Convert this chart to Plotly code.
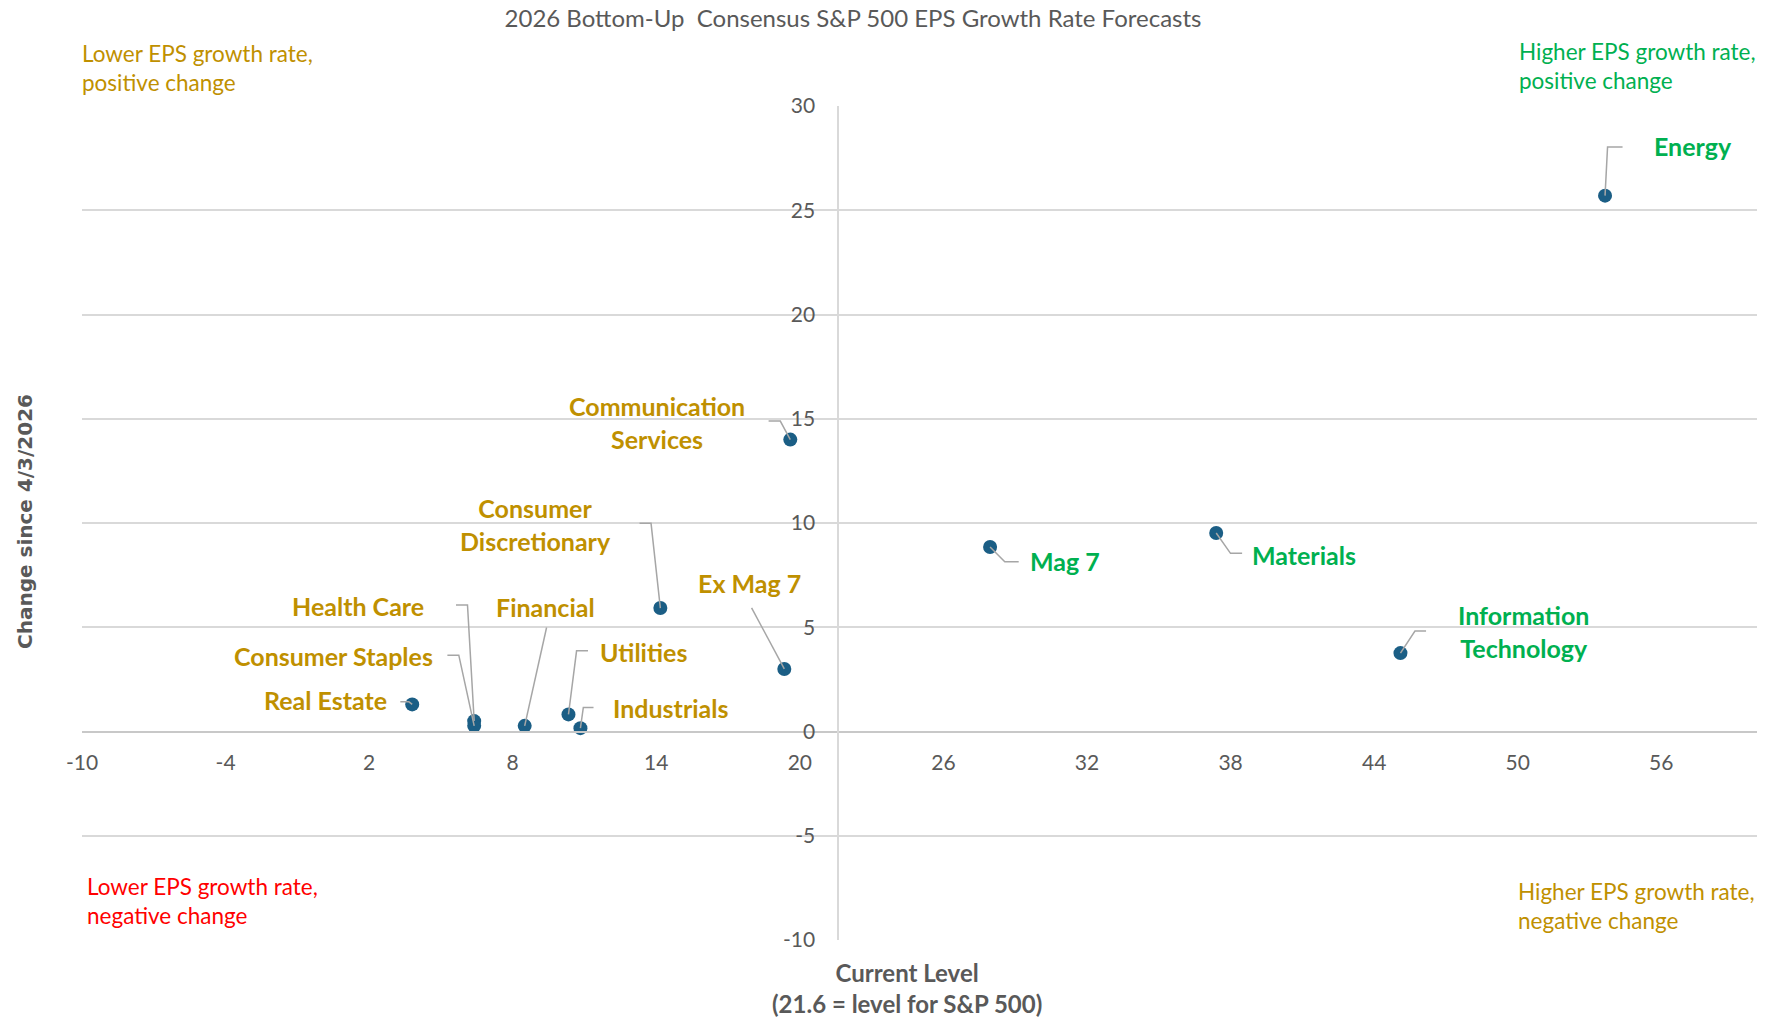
import plotly.graph_objects as go

# --- data -------------------------------------------------------------
sectors = [
    "Energy", "Communication Services", "Consumer Discretionary", "Ex Mag 7",
    "Mag 7", "Materials", "Information Technology", "Real Estate",
    "Health Care", "Consumer Staples", "Financial", "Utilities", "Industrials",
]
current_level = [53.65, 19.6, 14.17, 19.35, 27.95, 37.4, 45.1, 3.8, 6.39, 6.39, 8.5, 10.33, 10.83]
change_since = [25.7, 14.0, 5.92, 3.0, 8.85, 9.52, 3.76, 1.3, 0.5, 0.27, 0.27, 0.82, 0.16]

x_ticks = [-10, -4, 2, 8, 14, 20, 26, 32, 38, 44, 50, 56]
y_ticks = [-10, -5, 0, 5, 10, 15, 20, 25, 30]
sp500_level = 21.6

title_text = "2026 Bottom-Up  Consensus S&P 500 EPS Growth Rate Forecasts"
x_title = "Current Level<br>(21.6 = level for S&P 500)"
y_title = "Change since 4/3/2026"

# --- styling ----------------------------------------------------------
W, H = 1769, 1019
ML, MR, MT, MB = 82, 12, 106, 79
X_RANGE = [-10, 60]
Y_RANGE = [-10, 30]
GOLD = "#BF9000"
GREEN = "#00B050"
RED = "#FF0000"
GREY_TXT = "#595959"
MARKER = "#1B5E85"
LEADER = "#A6A6A6"
FONT = "Lato"

# label text with manual line breaks
label_text = {
    "Communication Services": "Communication<br>Services",
    "Consumer Discretionary": "Consumer<br>Discretionary",
    "Information Technology": "Information<br>Technology",
}

# label placement: (xanchor, dx, dy, leader elbow points), pixels, screen-down y
label_layout = {
    "Energy": ("left", 47, -50, [(2.5, -48.6), (17.5, -48.6)]),
    "Communication Services": ("right", -43, -17, [(-10, -18.5), (-21.7, -18.5)]),
    "Consumer Discretionary": ("right", -47, -84, [(-9.3, -84.7), (-20.8, -84.7)]),
    "Ex Mag 7": ("center", -35, -86, [(-32.7, -61.1)]),
    "Mag 7": ("left", 38, 14, [(14.7, 14.8), (28.6, 14.8)]),
    "Materials": ("left", 34, 22, [(14.3, 20.3), (25.9, 20.3)]),
    "Information Technology": ("left", 56, -22, [(14.5, -22), (25.6, -22)]),
    "Real Estate": ("right", -23, -4, [(-3.3, -2.6), (-11.9, -2.6)]),
    "Health Care": ("right", -48, -115, [(-6.7, -116), (-18.2, -116)]),
    "Consumer Staples": ("right", -39, -70, [(-15.4, -70.7), (-26.8, -70.7)]),
    "Financial": ("center", 21, -119, [(21.9, -98.4)]),
    "Utilities": ("left", 30, -62, [(8.1, -63.6), (19.5, -63.6)]),
    "Industrials": ("left", 31, -20, [(2.9, -20.7), (13.1, -20.7)]),
}

plot_w = W - ML - MR
plot_h = H - MT - MB


def fx(px):
    return (px - ML) / plot_w


def fy(py):
    return (H - MB - py) / plot_h


fig = go.Figure()

fig.add_trace(go.Scatter(
    x=current_level, y=change_since, mode="markers",
    marker=dict(size=14, color=MARKER),
    text=sectors, hoverinfo="text", showlegend=False,
))

# data labels with leader lines
for name, xv, yv in zip(sectors, current_level, change_since):
    anchor, dx, dy, elbow = label_layout[name]
    color = GREEN if xv > sp500_level else GOLD
    fig.add_annotation(
        x=xv, y=yv, xref="x", yref="y",
        text="<b>" + label_text.get(name, name) + "</b>",
        showarrow=False, xanchor=anchor, yanchor="middle",
        xshift=dx, yshift=-dy, align="center",
        font=dict(family=FONT, size=25, color=color),
    )
    path = "M0,0 " + " ".join(f"L{px},{-py}" for px, py in elbow)
    fig.add_shape(
        type="path", xref="x", yref="y",
        xsizemode="pixel", ysizemode="pixel", xanchor=xv, yanchor=yv,
        path=path, line=dict(color=LEADER, width=1.5), layer="above",
    )

# quadrant notes
quadrants = [
    ("Lower EPS growth rate,<br>positive change", 80, 68, GOLD),
    ("Higher EPS growth rate,<br>positive change", 1517, 66, GREEN),
    ("Lower EPS growth rate,<br>negative change", 85, 901, RED),
    ("Higher EPS growth rate,<br>negative change", 1516, 906, GOLD),
]
for txt, px, py, col in quadrants:
    fig.add_annotation(
        x=fx(px), y=fy(py), xref="paper", yref="paper", text=txt,
        showarrow=False, xanchor="left", yanchor="middle", align="left",
        font=dict(family=FONT, size=22.5, color=col),
    )

# axis titles
fig.add_annotation(
    x=fx(907), y=fy(988), xref="paper", yref="paper",
    text="<b>" + x_title + "</b>", showarrow=False,
    xanchor="center", yanchor="middle", align="center",
    font=dict(family=FONT, size=24, color=GREY_TXT),
)
fig.add_annotation(
    x=fx(25), y=fy(522), xref="paper", yref="paper",
    text="<b>" + y_title + "</b>", showarrow=False, textangle=-90,
    xanchor="center", yanchor="middle",
    font=dict(family="DejaVu Sans", size=20, color=GREY_TXT),
)

fig.update_layout(
    width=W, height=H,
    margin=dict(l=ML, r=MR, t=MT, b=MB, pad=0),
    paper_bgcolor="white", plot_bgcolor="white",
    font=dict(family=FONT, color=GREY_TXT),
    title=dict(
        text=title_text, x=853 / W, y=1 - 19 / H,
        xref="container", yref="container",
        xanchor="center", yanchor="middle",
        font=dict(family=FONT, size=24, color=GREY_TXT),
    ),
    xaxis=dict(
        range=X_RANGE, tickmode="array", tickvals=x_ticks,
        ticktext=[str(v) for v in x_ticks],
        showgrid=False, zeroline=False,
        anchor="free", position=(0 - Y_RANGE[0]) / (Y_RANGE[1] - Y_RANGE[0]),
        showline=True, linecolor="#C8C8C8", linewidth=2,
        ticks="", ticklabelstandoff=12,
        tickfont=dict(family=FONT, size=21, color=GREY_TXT),
        fixedrange=True,
    ),
    yaxis=dict(
        range=Y_RANGE, tickmode="array", tickvals=y_ticks,
        ticktext=[str(v) for v in y_ticks],
        showgrid=True, gridcolor="#D9D9D9", gridwidth=1.8, zeroline=False,
        anchor="free", position=(sp500_level - X_RANGE[0]) / (X_RANGE[1] - X_RANGE[0]),
        showline=True, linecolor="#D9D9D9", linewidth=1.6,
        ticks="", ticklabelstandoff=18,
        tickfont=dict(family=FONT, size=21, color=GREY_TXT),
        fixedrange=True,
    ),
)

fig.write_html("out.html")
